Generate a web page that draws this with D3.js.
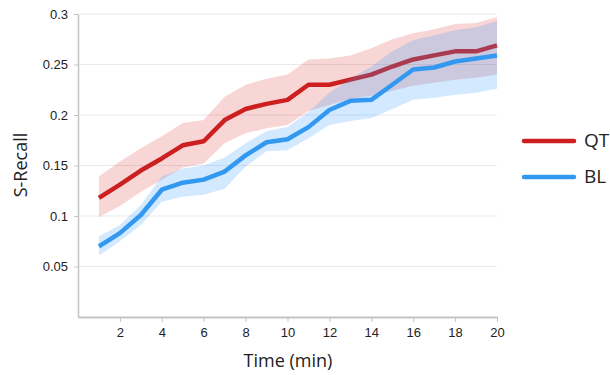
<!DOCTYPE html>
<html>
<head>
<meta charset="utf-8">
<script src="https://cdn.jsdelivr.net/npm/d3@7"></script>
<style>
  body { margin: 0; background: #fff; }
  svg { font-family: "Open Sans", "Noto Sans", sans-serif; }
  .axis path, .axis line { stroke: #c4c4c4; }
  .axis text { fill: #222; font-size: 13px; }
</style>
</head>
<body>
<svg id="chart" width="610" height="375"></svg>
<script>
// minutes
let time = [1,2,3,4,5,6,7,8,9,10,11,12,13,14,15,16,17,18,19,20];

// QT
let qtMean  = [0.118,0.131,0.145,0.157,0.170,0.174,0.195,0.206,0.211,0.215,0.230,0.230,0.235,0.240,0.248,0.255,0.259,0.263,0.263,0.269];
let qtUpper = [0.139,0.154,0.167,0.179,0.192,0.195,0.218,0.230,0.236,0.240,0.255,0.256,0.259,0.266,0.275,0.281,0.285,0.290,0.291,0.297];
let qtLower = [0.099,0.110,0.124,0.136,0.148,0.152,0.172,0.182,0.187,0.190,0.204,0.210,0.216,0.219,0.224,0.229,0.232,0.235,0.237,0.240];

// BL
let blMean  = [0.070,0.083,0.101,0.126,0.133,0.136,0.144,0.160,0.173,0.176,0.188,0.205,0.214,0.215,0.230,0.245,0.247,0.253,0.256,0.259];
let blUpper = [0.080,0.091,0.111,0.139,0.147,0.150,0.158,0.172,0.184,0.188,0.203,0.222,0.236,0.248,0.263,0.274,0.279,0.284,0.287,0.293];
let blLower = [0.061,0.075,0.091,0.114,0.119,0.121,0.127,0.149,0.164,0.165,0.177,0.190,0.194,0.197,0.206,0.215,0.217,0.220,0.222,0.226];

let xTicks = [2,4,6,8,10,12,14,16,18,20];
let yTicks = [0.05,0.1,0.15,0.2,0.25,0.3];

let series = [
  {name: "QT", mean: qtMean, upper: qtUpper, lower: qtLower, color: "#cc1f1f", band: "rgba(221,51,51,0.2)"},
  {name: "BL", mean: blMean, upper: blUpper, lower: blLower, color: "#3399f0", band: "rgba(51,153,255,0.22)"}
];

let svg = d3.select("#chart");

let x = d3.scaleLinear().domain([0, 20]).range([78, 497]);
let y = d3.scaleLinear().domain([0, 0.3]).range([317, 14]);

// grid
svg.append("g")
  .selectAll("line")
  .data(yTicks)
  .enter().append("line")
  .attr("x1", x(0)).attr("x2", x(20))
  .attr("y1", d => y(d)).attr("y2", d => y(d))
  .attr("stroke", "#e9e9e9")
  .attr("stroke-width", 1);

let area = d3.area()
  .x((d, i) => x(time[i]))
  .y0(d => y(d[0]))
  .y1(d => y(d[1]));

let line = d3.line()
  .x((d, i) => x(time[i]))
  .y(d => y(d));

// band then line, QT first so the BL band sits over it
series.forEach(function(s) {
  svg.append("path")
    .datum(s.lower.map((v, i) => [v, s.upper[i]]))
    .attr("fill", s.band)
    .attr("d", area);

  svg.append("path")
    .datum(s.mean)
    .attr("fill", "none")
    .attr("stroke", s.color)
    .attr("stroke-width", 4.5)
    .attr("stroke-linejoin", "round")
    .attr("d", line);
});

// axes
let gx = svg.append("g")
  .attr("class", "axis")
  .attr("transform", "translate(0," + y(0) + ")")
  .call(d3.axisBottom(x).tickValues(xTicks).tickSize(5).tickSizeOuter(0).tickPadding(6));
gx.select(".domain").attr("stroke-width", 2);

let gy = svg.append("g")
  .attr("class", "axis")
  .attr("transform", "translate(" + x(0) + ",0)")
  .call(d3.axisLeft(y).tickValues(yTicks).tickSize(4).tickSizeOuter(0).tickPadding(6)
    .tickFormat(d => String(+d.toFixed(2))));
gy.select(".domain").attr("stroke-width", 1.5);

// axis titles
svg.append("text")
  .attr("x", 288).attr("y", 367)
  .attr("text-anchor", "middle")
  .style("font-size", "18px").style("fill", "#222")
  .text("Time (min)");

svg.append("text")
  .attr("transform", "translate(27,165) rotate(-90)")
  .attr("text-anchor", "middle")
  .style("font-size", "18px").style("fill", "#222")
  .text("S-Recall");

// legend
let legend = svg.append("g")
  .selectAll("g")
  .data(series)
  .enter().append("g")
  .attr("transform", (d, i) => "translate(524," + (141 + i * 36) + ")");

legend.append("line")
  .attr("x1", 0).attr("x2", 50)
  .attr("stroke", d => d.color)
  .attr("stroke-width", 4.5)
  .attr("stroke-linecap", "round");

legend.append("text")
  .attr("x", 60).attr("y", 6)
  .style("font-size", "19px").style("fill", "#222")
  .text(d => d.name);
</script>
</body>
</html>
